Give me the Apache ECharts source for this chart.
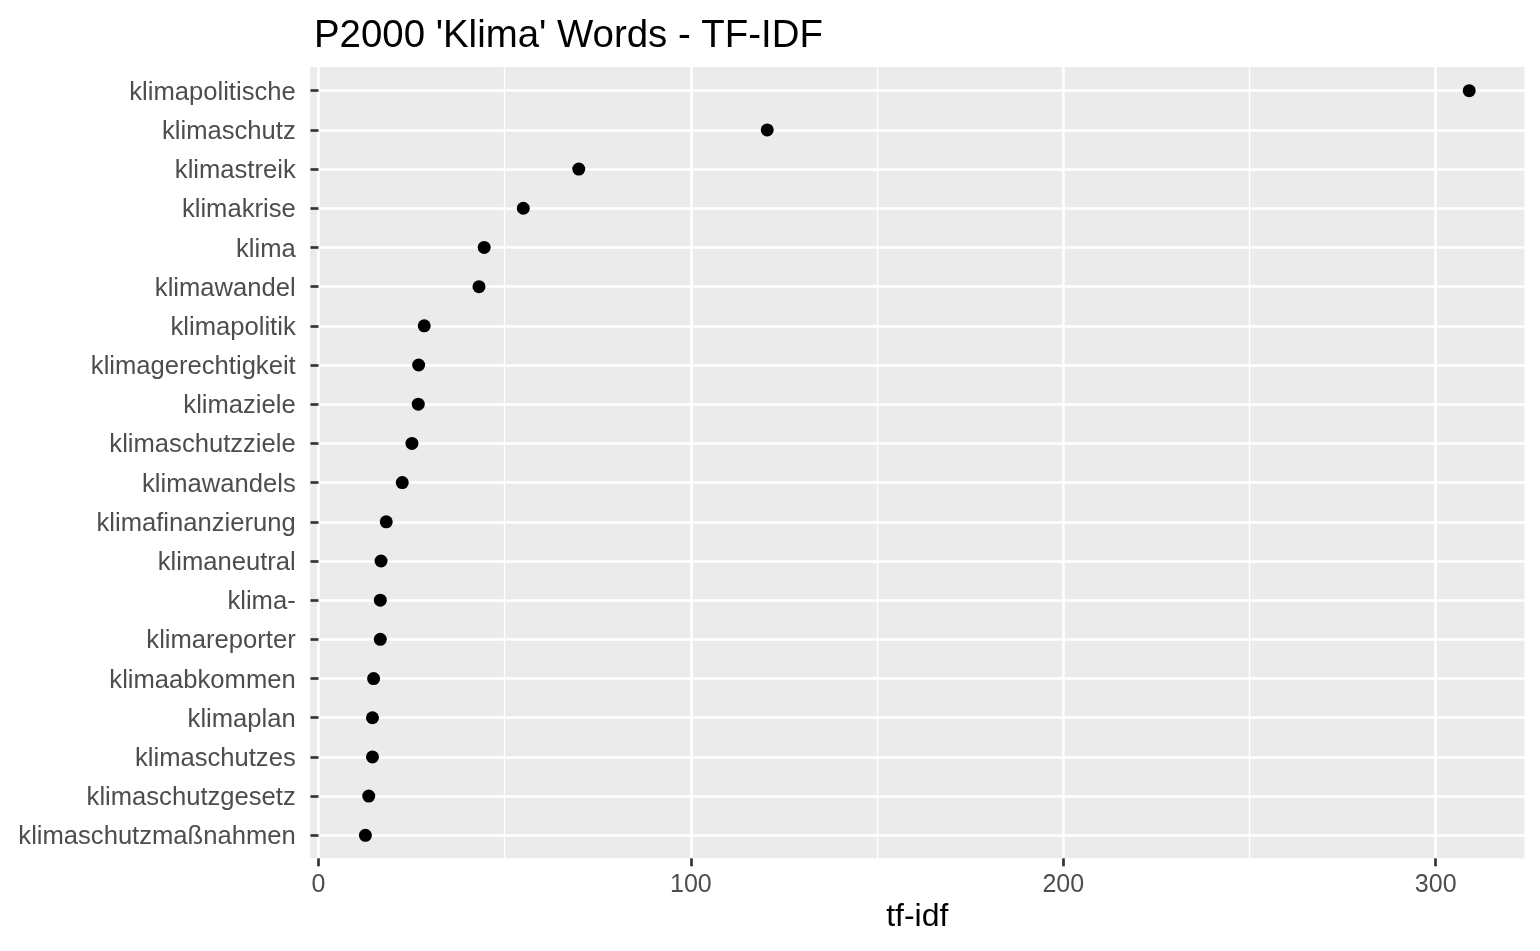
<!DOCTYPE html>
<html>
<head>
<meta charset="utf-8">
<script src="https://cdn.jsdelivr.net/npm/echarts@6/dist/echarts.min.js"></script>
<style>
  html, body { margin: 0; padding: 0; background: #fff; }
  #chart { width: 1540px; height: 951px; }
</style>
</head>
<body>
<div id="chart"></div>
<script>
// words, top to bottom as drawn
const words = [
  'klimapolitische', 'klimaschutz', 'klimastreik', 'klimakrise', 'klima',
  'klimawandel', 'klimapolitik', 'klimagerechtigkeit', 'klimaziele', 'klimaschutzziele',
  'klimawandels', 'klimafinanzierung', 'klimaneutral', 'klima-', 'klimareporter',
  'klimaabkommen', 'klimaplan', 'klimaschutzes', 'klimaschutzgesetz', 'klimaschutzmaßnahmen'
]
const tfidf = [
  309.0, 120.5, 69.9, 55.0, 44.5,
  43.1, 28.4, 26.9, 26.8, 25.1,
  22.5, 18.2, 16.8, 16.6, 16.6,
  14.8, 14.5, 14.5, 13.5, 12.6
]
const xMin = -2.22
const xMax = 323.82
const tickMax = 300
const majorStep = 100
const minorStep = 50

const font = "'Liberation Sans', Arial, Helvetica, sans-serif"
const panelBg = '#EBEBEB'

const chart = echarts.init(document.getElementById('chart'))

chart.setOption({
  animation: false,
  title: {
    text: "P2000 'Klima' Words - TF-IDF",
    left: 309,
    top: 12,
    textStyle: { fontFamily: font, fontSize: 38.4, fontWeight: 'normal', color: '#000' }
  },
  grid: [
    // panel background
    { left: 310.2, right: 15.6, top: 67, bottom: 92.7, show: true, backgroundColor: panelBg, borderWidth: 0 },
    // data grid, first/last category on the edges
    { left: 310.2, right: 15.6, top: 90.7, bottom: 115.7 },
    // tick grid, 0..300
    { left: 318.5, right: 104.3, top: 67, bottom: 92.7 }
  ],
  xAxis: [
    {
      gridIndex: 0, type: 'value', min: xMin, max: xMax,
      axisLine: { show: false }, axisTick: { show: false },
      axisLabel: { show: false }, splitLine: { show: false },
      name: 'tf-idf', nameLocation: 'middle', nameGap: 43,
      nameTextStyle: { fontFamily: font, fontSize: 32, color: '#000' }
    },
    { gridIndex: 1, type: 'value', min: xMin, max: xMax, show: false },
    {
      gridIndex: 2, type: 'value', min: 0, max: tickMax, interval: minorStep, position: 'top',
      axisLine: { show: false }, axisTick: { show: false }, axisLabel: { show: false },
      splitLine: { show: true, lineStyle: { color: '#fff', width: 1.3 } }
    },
    {
      gridIndex: 2, type: 'value', min: 0, max: tickMax, interval: majorStep, position: 'bottom',
      axisLine: { show: false },
      axisTick: { show: true, length: 8, lineStyle: { color: '#333', width: 2.7 } },
      axisLabel: { fontFamily: font, fontSize: 25, color: '#4D4D4D', margin: 14 },
      splitLine: { show: true, lineStyle: { color: '#fff', width: 2.5 } }
    }
  ],
  yAxis: [
    { gridIndex: 0, type: 'value', show: false },
    {
      gridIndex: 1, type: 'category', data: words, inverse: true, boundaryGap: false,
      axisLine: { show: false },
      axisTick: { show: true, interval: 0, length: 8, lineStyle: { color: '#333', width: 2.7 } },
      axisLabel: {
        interval: 0, margin: 14.5,
        formatter: '{w|{value}}',
        rich: {
          w: { fontFamily: font, fontSize: 25.6, color: '#4D4D4D', padding: [4, 0, 0, 0] }
        }
      },
      splitLine: { show: true, interval: 0, lineStyle: { color: '#fff', width: 2.5 } }
    },
    { gridIndex: 2, type: 'value', show: false }
  ],
  series: [{
    type: 'scatter',
    xAxisIndex: 1,
    yAxisIndex: 1,
    data: words.map((w, i) => [tfidf[i], w]),
    symbolSize: 13,
    itemStyle: { color: '#000', opacity: 1 },
    clip: false,
    silent: true
  }]
})

window.addEventListener('resize', () => chart.resize())
</script>
</body>
</html>
